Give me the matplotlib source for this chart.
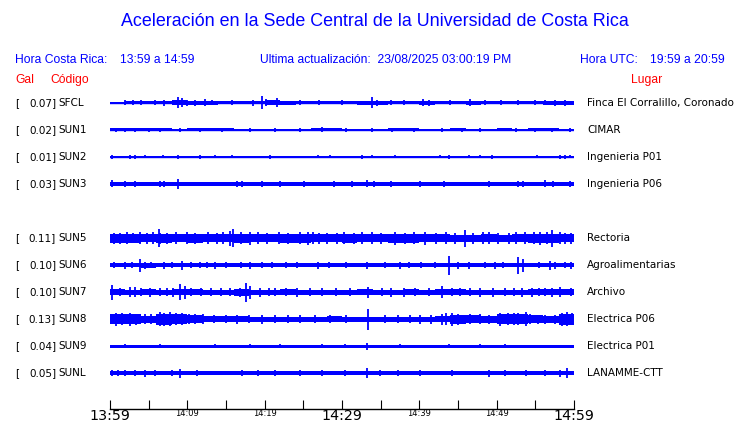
import matplotlib
matplotlib.use("Agg")
import matplotlib.pyplot as plt
import matplotlib.transforms as mtransforms
import numpy as np

# Datos de las estaciones
codes = ["SFCL", "SUN1", "SUN2", "SUN3", "SUN5", "SUN6", "SUN7", "SUN8", "SUN9", "SUNL"]
gal = ["0.07", "0.02", "0.01", "0.03", "0.11", "0.10", "0.10", "0.13", "0.04", "0.05"]
places = ["Finca El Corralillo, Coronado", "CIMAR", "Ingenieria P01", "Ingenieria P06",
          "Rectoria", "Agroalimentarias", "Archivo", "Electrica P06", "Electrica P01",
          "LANAMME-CTT"]
rows = [0, 1, 2, 3, 5, 6, 7, 8, 9, 10]

# Envolvente (semi-amplitud) cada 2 minutos, 30 valores por estacion
envelope = {
    "SFCL": [1.0, 1.5, 1.5, 1.5, 2.5, 2.0, 2.0, 1.5, 1.5, 1.5, 2.5, 2.0, 1.5, 1.5, 1.5,
             1.5, 2.0, 2.0, 1.5, 1.5, 2.0, 1.5, 1.5, 2.0, 1.5, 1.5, 1.5, 1.5, 2.0, 1.8],
    "SUN1": [1.5, 1.5, 1.5, 1.5, 1.2, 1.5, 1.5, 1.5, 1.0, 1.0, 1.0, 1.0, 1.2, 1.5, 1.5,
             1.2, 1.0, 1.2, 1.5, 1.5, 1.2, 1.2, 1.5, 1.2, 1.2, 1.5, 1.2, 1.5, 1.5, 1.2],
    "SUN2": [0.6] * 30,
    "SUN3": [2.0, 2.0, 2.0, 2.0, 2.2, 2.0, 2.0, 2.0, 2.0, 2.0, 2.0, 2.2, 2.0, 2.0, 2.0,
             2.0, 2.0, 2.0, 2.0, 2.0, 2.0, 2.0, 2.0, 2.0, 2.0, 2.2, 2.0, 2.0, 2.2, 2.0],
    "SUN5": [4.5, 4.5, 4.0, 4.5, 4.0, 4.5, 4.0, 4.0, 4.5, 4.0, 4.0, 4.5, 4.5, 4.0, 4.0,
             4.5, 4.0, 4.0, 4.5, 4.5, 4.0, 4.0, 3.5, 3.5, 4.0, 3.5, 4.0, 4.5, 4.5, 4.0],
    "SUN6": [2.0, 2.0, 2.5, 1.8, 2.0, 1.8, 1.8, 2.0, 2.0, 1.8, 1.8, 2.0, 2.0, 1.8, 2.0,
             2.0, 1.8, 1.8, 1.8, 2.0, 1.8, 2.0, 2.0, 2.0, 1.8, 1.8, 2.0, 1.8, 2.0, 2.0],
    "SUN7": [3.0, 2.5, 3.0, 2.5, 3.0, 3.0, 2.5, 2.5, 3.5, 2.5, 2.5, 3.0, 2.5, 2.5, 2.5,
             2.5, 3.0, 2.5, 2.5, 3.0, 2.5, 3.0, 3.0, 2.5, 2.5, 2.5, 2.5, 3.0, 3.0, 3.0],
    "SUN8": [5.0, 5.0, 3.5, 5.5, 5.0, 4.0, 3.0, 3.0, 3.0, 2.5, 2.5, 2.5, 2.5, 2.5, 3.0,
             2.5, 2.5, 2.5, 2.5, 2.5, 2.5, 3.0, 4.5, 4.0, 3.5, 5.0, 5.0, 4.0, 3.5, 5.5],
    "SUN9": [1.5] * 30,
    "SUNL": [2.0] * 30,
}

# Picos: (minuto desde 13:59, semi-amplitud)
spikes = {
    "SFCL": [(1.9, 2.5), (3.0, 2.5), (4.0, 2.5), (5.8, 2.5), (7.0, 3.0), (8.8, 5.5),
             (9.3, 4.5), (10.0, 3.0), (11.0, 3.0), (12.3, 3.5), (13.2, 2.5), (15.8, 2.5),
             (18.5, 3.0), (19.7, 6.5), (20.2, 3.5), (21.6, 4.5), (24.6, 2.5), (27.0, 2.5),
             (30.0, 2.5), (33.9, 5.5), (34.5, 3.0), (36.3, 2.5), (38.0, 2.5), (40.5, 3.5),
             (41.2, 3.0), (44.0, 2.5), (46.6, 3.5), (48.5, 2.5), (50.5, 2.5), (52.8, 2.5),
             (55.0, 2.5), (56.2, 2.5), (57.5, 3.0), (58.8, 3.0)],
    "SUN1": [(0.8, 2.0), (2.0, 2.0), (3.2, 2.0), (5.0, 2.0), (6.5, 2.0), (9.0, 2.0),
             (11.6, 2.0), (14.5, 2.0), (18.1, 2.0), (21.3, 2.0), (24.6, 2.0), (27.4, 2.5),
             (30.5, 2.0), (33.9, 2.0), (36.5, 2.0), (39.3, 2.0), (42.9, 2.0), (45.5, 2.0),
             (47.8, 2.0), (52.5, 2.0), (55.0, 2.0), (57.2, 2.0), (59.5, 2.0)],
    "SUN2": [(0.3, 2.0), (2.6, 2.0), (3.2, 2.0), (4.5, 1.5), (6.9, 1.5), (8.8, 2.0),
             (11.6, 2.0), (13.6, 1.5), (15.8, 1.5), (20.7, 2.0), (26.9, 1.5), (28.5, 1.5),
             (32.6, 2.0), (33.9, 1.5), (36.9, 1.5), (42.7, 1.5), (43.9, 2.0), (46.4, 1.5),
             (47.8, 1.5), (49.4, 2.0), (55.2, 1.5), (58.2, 2.0), (58.8, 2.0), (59.5, 1.5)],
    "SUN3": [(0.3, 3.5), (1.9, 3.0), (3.2, 3.0), (6.5, 3.0), (7.0, 3.0), (8.8, 4.5),
             (16.4, 3.0), (17.1, 3.0), (19.7, 3.0), (22.0, 3.0), (25.1, 3.0), (29.0, 3.0),
             (31.3, 3.0), (33.2, 3.5), (34.1, 3.0), (36.3, 3.0), (40.1, 3.0), (43.2, 3.0),
             (49.0, 3.0), (52.8, 3.0), (53.4, 3.0), (56.2, 3.5), (57.3, 3.0), (59.5, 3.0)],
    "SUN5": [(0.5, 5.5), (1.3, 5.5), (2.2, 6.0), (3.0, 5.0), (3.9, 6.0), (4.8, 5.5),
             (5.5, 6.0), (6.3, 9.0), (6.5, 5.5), (7.4, 5.5), (8.5, 6.0), (9.9, 6.0),
             (11.0, 5.5), (12.7, 6.0), (13.8, 5.5), (14.6, 6.0), (15.5, 7.5), (15.9, 9.0),
             (17.0, 6.0), (18.1, 6.5), (19.1, 6.0), (20.3, 5.5), (21.8, 6.0), (23.0, 5.5),
             (24.6, 6.0), (25.6, 6.5), (26.2, 6.0), (27.0, 5.5), (28.0, 5.5), (29.4, 5.5),
             (30.2, 6.0), (31.5, 5.5), (32.6, 6.0), (33.9, 6.0), (35.0, 5.5), (36.9, 6.5),
             (38.2, 5.5), (39.3, 6.0), (40.7, 6.5), (42.1, 5.5), (43.5, 6.0), (44.6, 5.5),
             (45.9, 8.5), (47.0, 5.5), (48.2, 6.0), (49.0, 6.0), (50.2, 5.5), (51.6, 5.5),
             (52.5, 6.0), (53.6, 6.0), (54.8, 6.0), (55.6, 6.5), (56.5, 6.0), (57.2, 8.5),
             (58.2, 6.0), (58.9, 5.5), (59.6, 5.5)],
    "SUN6": [(0.5, 3.0), (1.9, 3.5), (2.8, 3.0), (3.9, 6.5), (4.5, 3.5), (5.3, 3.0),
             (7.0, 3.5), (8.0, 3.0), (9.3, 4.5), (10.5, 3.0), (11.6, 3.0), (12.5, 3.0),
             (13.6, 3.5), (15.0, 3.0), (17.0, 3.0), (18.1, 3.5), (19.7, 3.0), (21.0, 3.0),
             (22.8, 3.0), (24.2, 3.0), (26.9, 3.5), (28.3, 3.0), (30.5, 3.0), (33.2, 3.5),
             (35.6, 3.0), (37.5, 3.5), (38.6, 3.0), (40.2, 3.0), (42.0, 3.0), (43.9, 9.5),
             (45.0, 3.5), (46.4, 3.5), (48.5, 3.0), (49.8, 3.5), (50.8, 3.0), (52.8, 8.5),
             (53.4, 6.5), (55.5, 3.0), (56.9, 4.5), (57.6, 3.5), (58.8, 3.0), (59.6, 3.5)],
    "SUN7": [(0.3, 7.5), (1.3, 4.0), (2.6, 5.0), (3.2, 5.0), (4.0, 4.0), (5.2, 4.5),
             (6.5, 4.0), (7.4, 4.0), (8.2, 4.5), (9.1, 8.0), (9.7, 6.5), (10.5, 4.0),
             (11.8, 4.0), (13.0, 4.0), (14.3, 4.0), (15.5, 4.0), (16.8, 4.5), (17.6, 9.5),
             (18.1, 6.5), (19.4, 4.5), (20.5, 4.0), (21.3, 4.0), (22.8, 4.0), (24.2, 4.5),
             (25.8, 4.0), (27.4, 4.0), (29.2, 4.0), (31.0, 4.0), (33.4, 5.5), (35.2, 4.0),
             (36.3, 4.5), (38.0, 4.5), (39.5, 4.0), (41.2, 4.0), (42.9, 6.0), (44.2, 4.0),
             (45.2, 4.0), (46.6, 4.0), (47.8, 4.5), (49.5, 4.5), (51.1, 4.0), (52.2, 4.0),
             (53.3, 4.5), (54.6, 4.5), (55.5, 4.0), (56.2, 4.0), (57.2, 4.5), (58.2, 5.0),
             (59.6, 4.0)],
    "SUN8": [(0.8, 6.5), (1.5, 6.0), (2.6, 6.5), (3.3, 5.5), (4.5, 5.0), (5.3, 5.0),
             (6.5, 7.0), (7.0, 6.5), (7.8, 7.0), (8.5, 6.0), (9.3, 6.0), (10.2, 5.0),
             (11.0, 5.0), (12.0, 5.0), (13.5, 4.0), (15.0, 4.0), (16.4, 4.5), (18.0, 4.0),
             (19.7, 4.5), (21.3, 4.0), (23.0, 4.0), (24.6, 4.0), (26.5, 4.0), (28.5, 4.0),
             (30.5, 4.0), (33.4, 10.5), (35.5, 4.0), (37.2, 4.0), (38.8, 4.0), (40.1, 4.5),
             (41.5, 4.5), (42.9, 5.5), (43.5, 6.0), (44.2, 6.5), (45.0, 5.5), (46.6, 5.0),
             (47.8, 5.0), (49.0, 4.5), (50.4, 6.5), (51.5, 6.0), (52.2, 6.0), (52.8, 6.0),
             (53.8, 7.0), (54.3, 5.0), (55.3, 4.5), (56.2, 4.5), (57.5, 4.5), (58.5, 6.5),
             (59.1, 7.0), (59.7, 6.0)],
    "SUN9": [(1.9, 2.0), (6.5, 2.0), (13.6, 2.0), (18.1, 2.0), (22.0, 2.0), (27.4, 2.0),
             (30.4, 2.0), (33.2, 3.5), (37.5, 2.0), (43.9, 2.0), (47.8, 2.0), (51.1, 2.0)],
    "SUNL": [(0.3, 3.0), (1.0, 3.0), (2.0, 3.0), (3.2, 3.0), (4.5, 3.5), (5.8, 3.0),
             (8.0, 3.0), (9.1, 4.5), (11.3, 3.0), (17.1, 3.0), (19.1, 3.0), (21.3, 3.0),
             (24.6, 3.0), (27.4, 3.0), (30.4, 3.0), (33.2, 5.0), (34.9, 3.0), (37.2, 3.0),
             (40.1, 3.0), (44.2, 3.0), (49.0, 3.5), (51.1, 3.0), (53.8, 3.0), (56.2, 3.0),
             (58.2, 3.5), (59.1, 5.0)],
}

tick_minutes = [0, 10, 20, 30, 40, 50, 60]
tick_labels = ["13:59", "14:09", "14:19", "14:29", "14:39", "14:49", "14:59"]
big_ticks = ["13:59", "14:29", "14:59"]

W, H = 740, 423
fig = plt.figure(figsize=(W / 100, H / 100), dpi=100)
ax = fig.add_axes([110 / W, (H - 409) / H, 464 / W, 319 / H])

px = 1 / 27.0  # una fila = 27 px
blue = "#0000ff"
edges = np.arange(0, 62, 2)
for code, r in zip(codes, rows):
    env = np.array(envelope[code]) * px
    env = np.append(env, env[-1])
    ax.fill_between(edges, r - env, r + env, step="post", color=blue, lw=0)
    ax.plot([0, 60], [r, r], color=blue, lw=1.0)
    t = [s[0] for s in spikes[code]]
    a = np.array([s[1] for s in spikes[code]]) * px
    ax.vlines(t, r - a, r + a, color=blue, lw=1.3)

ax.set_xlim(0, 60)
ax.set_ylim(11.33, -0.48)
for s in ["top", "left", "right"]:
    ax.spines[s].set_visible(False)
ax.spines["bottom"].set_linewidth(1.0)
ax.set_yticks([])
ax.set_xticks(tick_minutes)
ax.set_xticks([5, 15, 25, 35, 45, 55], minor=True)
ax.set_xticklabels(tick_labels)
ax.tick_params(axis="x", which="both", direction="in", length=6.5, width=0.8, pad=0)
for lab in ax.get_xticklabels():
    if lab.get_text() in big_ticks:
        lab.set_fontsize(10.3)
    else:
        lab.set_fontsize(6)

# Textos de etiquetas
tr = mtransforms.blended_transform_factory(fig.transFigure, ax.transData)
lab_font = dict(family="DejaVu Sans", fontsize=7.5, color="black", va="center")
for r, g, c, p in zip(rows, gal, codes, places):
    ax.text(15 / W, r, "[", transform=tr, ha="left", **lab_font)
    ax.text(56 / W, r, g + "]", transform=tr, ha="right", **lab_font)
    ax.text(58 / W, r, c, transform=tr, ha="left", **lab_font)
    ax.text(587 / W, r, p, transform=tr, ha="left", **lab_font)

# Encabezado
hfont = "Liberation Sans"
fig.text(375 / W, 1 - 22 / H, "Aceleración en la Sede Central de la Universidad de Costa Rica",
         ha="center", va="center", color=blue, fontsize=12.9, family=hfont)
head = [(15, "Hora Costa Rica:"), (120, "13:59 a 14:59"),
        (260, "Ultima actualización:  23/08/2025 03:00:19 PM"),
        (580, "Hora UTC:"), (650, "19:59 a 20:59")]
for x, s in head:
    fig.text(x / W, 1 - 60 / H, s, ha="left", va="center",
             color=blue, fontsize=8.7, family=hfont)
fig.text(15 / W, 1 - 80 / H, "Gal", ha="left", va="center", color="red",
         fontsize=8.7, family=hfont)
fig.text(50 / W, 1 - 80 / H, "Código", ha="left", va="center", color="red",
         fontsize=8.7, family=hfont)
fig.text(631 / W, 1 - 80 / H, "Lugar", ha="left", va="center", color="red",
         fontsize=8.7, family=hfont)

fig.savefig("out.png", dpi=100)
